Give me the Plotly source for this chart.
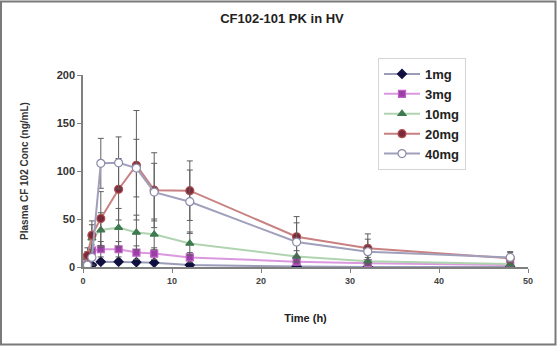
import plotly.graph_objects as go

# Sampling times (h)
time_h = [0, 0.5, 1, 2, 4, 6, 8, 12, 24, 32, 48]

# Mean plasma concentrations (ng/mL) per dose group
conc_1mg = [0, 1, 2, 5.5, 5.5, 5, 4.5, 2, 0.5, 0, 0]
conc_3mg = [0, 6, 17, 18.5, 18.5, 15, 14, 10, 5.5, 4, 2]
conc_10mg = [0, 10, 30, 38.5, 41, 36, 34, 24.5, 11, 6, 3]
conc_20mg = [0, 12, 33, 50.5, 81, 106, 80, 79.5, 31.5, 19.5, 9]
conc_40mg = [0, 2, 10, 108, 108.5, 103, 78, 68, 26, 16, 10]

# Standard deviations (ng/mL)
sd_1mg = [0, 1, 1, 2, 2, 2, 2, 1, 0.5, 0, 0]
sd_3mg = [0, 3, 6, 8, 8, 7, 6, 5, 3, 2, 1]
sd_10mg = [0, 6, 14, 18, 20, 18, 16, 12, 6, 4, 2]
sd_20mg = [0, 8, 15, 28, 32, 57, 39, 31, 21, 15, 6]
sd_40mg = [0, 2, 8, 26, 27, 30, 30, 33, 20, 13, 6]

doses = ["1mg", "3mg", "10mg", "20mg", "40mg"]
series = [conc_1mg, conc_3mg, conc_10mg, conc_20mg, conc_40mg]
errors = [sd_1mg, sd_3mg, sd_10mg, sd_20mg, sd_40mg]

x_ticks = [0, 10, 20, 30, 40, 50]
y_ticks = [0, 50, 100, 150, 200]

styles = {
    "1mg": dict(line="#9a9cb8", fill="#101040", edge="#101040", symbol="diamond", size=7),
    "3mg": dict(line="#dc98de", fill="#9b3fa6", edge="#c060c8", symbol="square", size=7),
    "10mg": dict(line="#b0d4b0", fill="#3d7a4f", edge="#3d7a4f", symbol="triangle-up", size=7),
    "20mg": dict(line="#c98080", fill="#7a2a3a", edge="#b05050", symbol="circle", size=8),
    "40mg": dict(line="#a0a0bc", fill="#ffffff", edge="#8a8aa8", symbol="circle", size=8),
}

fig = go.Figure()
for name, y, err in zip(doses, series, errors):
    s = styles[name]
    fig.add_trace(go.Scatter(
        x=time_h, y=y, name=f"<b>{name}</b>", mode="lines+markers",
        line=dict(color=s["line"], width=2),
        marker=dict(symbol=s["symbol"], size=s["size"], color=s["fill"],
                    line=dict(color=s["edge"], width=1.2)),
        error_y=dict(type="data", array=err, visible=True,
                     color="#5e5e5e", thickness=1, width=3),
    ))

font_family = "Liberation Sans, Arial, sans-serif"
W, H = 557, 346
ML, MR, MT, MB = 83, 29, 75, 79
PW, PH = W - ML - MR, H - MT - MB

fig.update_layout(
    width=W, height=H, autosize=False,
    margin=dict(l=ML, r=MR, t=MT, b=MB),
    paper_bgcolor="white", plot_bgcolor="white",
    font=dict(family=font_family, color="#1a1a1a"),
    title=dict(text="<b>CF102-101 PK in HV</b>", x=282 / W, xanchor="center",
               y=1 - 18 / H, yanchor="middle", font=dict(size=13, color="#222")),
    xaxis=dict(range=[0, 50], tickvals=x_ticks,
               ticktext=[f"<b>{v}</b>" for v in x_ticks],
               showline=True, linecolor="#808080",
               linewidth=1.5, ticks="outside", ticklen=4, tickcolor="#808080",
               showgrid=False, zeroline=False,
               tickfont=dict(size=9, color="#444"),
               title=dict(text="<b>Time (h)</b>", font=dict(size=11, color="#222"),
                          standoff=30)),
    yaxis=dict(range=[0, 200], tickvals=y_ticks,
               ticktext=[f"<b>{v}</b>" for v in y_ticks],
               showline=True, linecolor="#808080",
               linewidth=1.5, ticks="outside", ticklen=4, tickcolor="#808080",
               showgrid=False, zeroline=False,
               tickfont=dict(size=11, color="#333"),
               title=dict(text="<b>Plasma CF 102 Conc (ng/mL)</b>",
                          font=dict(size=10, color="#333"), standoff=26)),
    legend=dict(x=(378 - ML) / PW, xanchor="left", y=(267 - 58) / PH,
                yanchor="top", bgcolor="white", bordercolor="#d4d4d4",
                borderwidth=1, tracegroupgap=0, itemwidth=36,
                font=dict(size=13, color="#222", family=font_family)),
    showlegend=True,
)

# Frame around the whole graphic
fig.add_shape(type="rect", xref="paper", yref="paper",
              x0=(-ML + 1) / PW, x1=1 + (MR - 1.5) / PW,
              y0=(-MB + 1.5) / PH, y1=1 + (MT - 1.5) / PH,
              line=dict(color="#7a7a7a", width=2), layer="below")

fig.write_html("out.html")
